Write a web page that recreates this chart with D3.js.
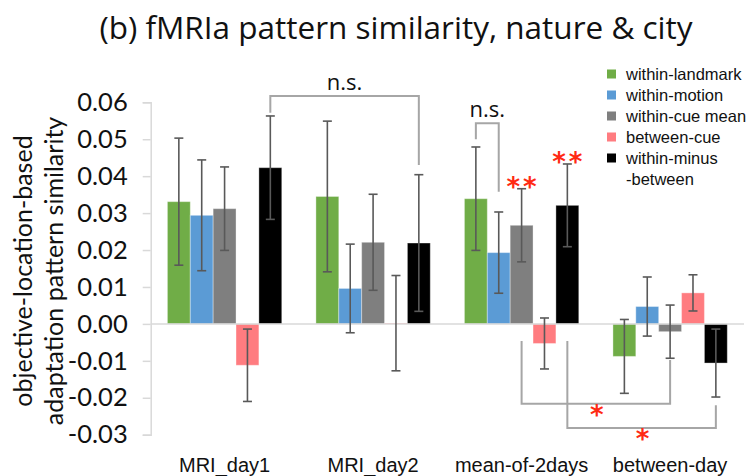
<!DOCTYPE html>
<html>
<head>
<meta charset="utf-8">
<script src="https://cdn.jsdelivr.net/npm/d3@7"></script>
<style>
  body { margin: 0; background: #fff; }
  text { fill: #111; }
</style>
</head>
<body>
<div id="chart"></div>
<script>
// data
const categories = ["MRI_day1", "MRI_day2", "mean-of-2days", "between-day"];
const seriesNames = ["within-landmark", "within-motion", "within-cue mean", "between-cue", "within-minus-between"];
const legendLabels = [["within-landmark"], ["within-motion"], ["within-cue mean"], ["between-cue"], ["within-minus", " -between"]];
const seriesColors = ["#70AD47", "#5B9BD5", "#7F7F7F", "#FF7C80", "#000000"];

// one row per series, one value per category
const means = [
  [0.0331, 0.0345, 0.0339, -0.0088],
  [0.0294, 0.0096, 0.0193, 0.0047],
  [0.0312, 0.0221, 0.0267, -0.0021],
  [-0.0112, 0.0002, -0.0053, 0.0084],
  [0.0423, 0.0219, 0.0321, -0.0106]
];
const errs = [
  [0.0172, 0.0204, 0.0140, 0.0100],
  [0.0150, 0.0120, 0.0110, 0.0080],
  [0.0113, 0.0130, 0.0099, 0.0072],
  [0.0098, 0.0129, 0.0069, 0.0049],
  [0.0140, 0.0185, 0.0112, 0.0092]
];

const tickValues = [-0.03, -0.02, -0.01, 0, 0.01, 0.02, 0.03, 0.04, 0.05, 0.06];
const tickLabels = ["-0.03", "-0.02", "-0.01", "0.00", "0.01", "0.02", "0.03", "0.04", "0.05", "0.06"];

// significance brackets: [category, series] at each end, heights in data units
const brackets = [
  { a: [0, 4], b: [1, 4], top: 0.0617, aEnd: 0.0572, bEnd: 0.0430, label: "n.s." },
  { a: [2, 0], b: [2, 1], top: 0.0543, aEnd: 0.0500, bEnd: 0.0358, label: "n.s." },
  { a: [2, 2], b: [3, 2], top: -0.0216, aEnd: -0.0046, bEnd: -0.0098, label: "*" },
  { a: [2, 4], b: [3, 4], top: -0.0282, aEnd: -0.0046, bEnd: -0.0220, label: "*" }
];
const starMarks = [[2, 2], [2, 4]]; // "**" above these bars

const width = 748, height = 476;

const svg = d3.select("#chart").append("svg")
  .attr("width", width)
  .attr("height", height);

const yScale = d3.scaleLinear()
  .domain([-0.03, 0.06])
  .range([434.7, 102.3]);

const xScale = d3.scaleBand()
  .domain(categories)
  .range([150.7, 744])
  .paddingInner(0.23)
  .paddingOuter(0.1125);

const xInner = d3.scaleBand()
  .domain(d3.range(seriesNames.length))
  .range([0, xScale.bandwidth()]);

const barCenter = (c, s) => xScale(categories[c]) + xInner(s) + xInner.bandwidth() / 2;

// title
svg.append("text")
  .attr("x", 396).attr("y", 39)
  .attr("text-anchor", "middle")
  .style("font-family", "'Open Sans', sans-serif")
  .style("font-size", "31.5px")
  .text("(b) fMRIa pattern similarity, nature & city");

// y axis
const yAxis = svg.append("g")
  .attr("transform", `translate(150.7,0)`)
  .call(d3.axisLeft(yScale)
    .tickValues(tickValues)
    .tickFormat((d, i) => tickLabels[i])
    .tickSize(8)
    .tickPadding(15));
yAxis.select(".domain").attr("stroke", "#D9D9D9").attr("stroke-width", 1.5);
yAxis.selectAll(".tick line").attr("stroke", "#D9D9D9").attr("stroke-width", 1.5);
yAxis.selectAll(".tick text")
  .style("font-family", "Lato, sans-serif")
  .style("font-size", "25.5px")
  .style("fill", "#111");

// y axis title, two lines
const yTitle = svg.append("text")
  .attr("transform", "translate(32,271) rotate(-90)")
  .attr("text-anchor", "middle")
  .style("font-family", "Lato, sans-serif")
  .style("font-size", "25px");
yTitle.append("tspan").attr("x", 0).attr("y", 0).text("objective-location-based");
yTitle.append("tspan").attr("x", 0).attr("y", 31).text("adaptation pattern similarity");

// bars
const groups = svg.append("g").selectAll("g")
  .data(means)
  .join("g")
  .attr("fill", (d, s) => seriesColors[s]);

groups.selectAll("rect")
  .data((row, s) => row.map((v, c) => ({ v, c, s })))
  .join("rect")
  .attr("x", d => xScale(categories[d.c]) + xInner(d.s))
  .attr("width", xInner.bandwidth())
  .attr("y", d => yScale(Math.max(0, d.v)))
  .attr("height", d => Math.abs(yScale(d.v) - yScale(0)))
  .attr("stroke", "rgba(255,255,255,0.35)")
  .attr("stroke-width", 1);

// zero line
svg.append("line")
  .attr("x1", 150.7).attr("x2", 744)
  .attr("y1", yScale(0)).attr("y2", yScale(0))
  .attr("stroke", "#D9D9D9").attr("stroke-width", 1.5);

// error bars
const errData = [];
means.forEach((row, s) => row.forEach((v, c) => errData.push({ v, e: errs[s][c], c, s })));
const eb = svg.append("g")
  .attr("stroke", "#595959")
  .attr("stroke-width", 1.6)
  .selectAll("g")
  .data(errData)
  .join("g");
eb.append("line")
  .attr("x1", d => barCenter(d.c, d.s)).attr("x2", d => barCenter(d.c, d.s))
  .attr("y1", d => yScale(d.v + d.e)).attr("y2", d => yScale(d.v - d.e));
[1, -1].forEach(sign => {
  eb.append("line")
    .attr("x1", d => barCenter(d.c, d.s) - 4.5).attr("x2", d => barCenter(d.c, d.s) + 4.5)
    .attr("y1", d => yScale(d.v + sign * d.e)).attr("y2", d => yScale(d.v + sign * d.e));
});

const redStar = sel => sel
  .attr("text-anchor", "middle")
  .style("font-family", "'DejaVu Sans', sans-serif")
  .style("font-size", "26px")
  .style("font-weight", "bold")
  .style("fill", "#FF2A14");

// brackets
brackets.forEach(b => {
  const xa = barCenter(b.a[0], b.a[1]), xb = barCenter(b.b[0], b.b[1]);
  const yt = yScale(b.top);
  svg.append("path")
    .attr("d", `M${xa},${yScale(b.aEnd)}V${yt}H${xb}V${yScale(b.bEnd)}`)
    .attr("fill", "none")
    .attr("stroke", "#A6A6A6")
    .attr("stroke-width", 2);
  const mid = (xa + xb) / 2;
  if (b.label === "n.s.") {
    svg.append("text")
      .attr("x", mid).attr("y", yt - 6)
      .attr("text-anchor", "middle")
      .style("font-family", "'Open Sans', sans-serif")
      .style("font-size", "22px")
      .text(b.label);
  } else {
    svg.append("text")
      .attr("x", mid + 1).attr("y", yt + 20)
      .call(redStar)
      .text(b.label);
  }
});

// "**" marks
starMarks.forEach(([c, s]) => {
  svg.append("text")
    .attr("x", barCenter(c, s) + 1.5).attr("y", yScale(means[s][c] + errs[s][c]) + 7)
    .call(redStar)
    .style("letter-spacing", "3px")
    .text("**");
});

// category labels
svg.append("g").selectAll("text")
  .data(categories)
  .join("text")
  .attr("x", d => xScale(d) + xScale.bandwidth() / 2)
  .attr("y", 471.5)
  .attr("text-anchor", "middle")
  .style("font-family", "'Liberation Sans', Arial, sans-serif")
  .style("font-size", "20px")
  .text(d => d);

// legend
const legend = svg.append("g").attr("transform", "translate(607,74)");
legendLabels.forEach((lines, i) => {
  const g = legend.append("g").attr("transform", `translate(0,${i * 21})`);
  g.append("rect")
    .attr("x", 0).attr("y", -4.5)
    .attr("width", 9).attr("height", 9)
    .attr("fill", seriesColors[i]);
  lines.forEach((t, j) => {
    g.append("text")
      .attr("x", 19).attr("y", j * 21 + 6)
      .style("font-family", "'Liberation Sans', Arial, sans-serif")
      .style("font-size", "16.5px")
      .text(t);
  });
});
</script>
</body>
</html>
